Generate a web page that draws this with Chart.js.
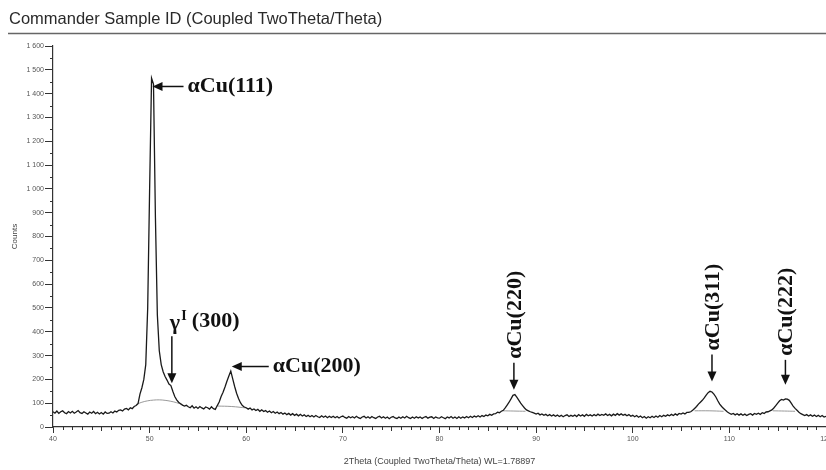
<!DOCTYPE html>
<html>
<head>
  <title>Commander Sample ID</title>
  <script src="https://cdn.jsdelivr.net/npm/chart.js"></script>
  <style>
    body { margin: 0; background: #fff; }
  </style>
</head>
<body>
  <canvas id="chart" width="826" height="470"></canvas>
  <script>
    const chartTitle = "Commander Sample ID (Coupled TwoTheta/Theta)";
    const xTitle = "2Theta (Coupled TwoTheta/Theta) WL=1.78897";
    const yTitle = "Counts";

    // scan 40..120 deg 2theta, step 0.2
    const scanStart = 40;
    const scanStep = 0.2;
    const counts = [
      64, 58, 67, 57, 64,   68, 60, 56, 65, 59,
      66, 58, 63, 69, 60,   57, 64, 59, 54, 63,
      58, 65, 56, 62, 55,   61, 54, 63, 57, 58,
      64, 59, 67, 63, 70,   72, 67, 75, 78, 72,
      81, 77, 86, 90, 98,   138, 165, 200, 262, 500,
      1000, 1465, 1440, 880, 470,   320, 262, 232, 212, 197,
      180, 174, 150, 128, 114,   104, 98, 92, 88, 91,
      85, 81, 89, 79, 85,   78, 86, 80, 76, 84,
      81, 75, 85, 77, 74,   90, 105, 128, 146, 168,
      192, 214, 235, 202, 170,   142, 120, 102, 90, 84,
      81, 75, 80, 72, 76,   69, 74, 66, 72, 65,
      69, 62, 67, 60, 65,   58, 63, 56, 61, 54,
      59, 52, 57, 50, 56,   49, 54, 47, 53, 46,
      51, 44, 49, 43, 48,   42, 48, 43, 40, 47,
      41, 46, 39, 45, 40,   45, 39, 44, 38, 43,
      46, 40, 37, 44, 39,   43, 38, 45, 39, 36,
      42, 45, 38, 43, 37,   44, 39, 36, 42, 45,
      38, 43, 37, 42, 35,   41, 44, 38, 36, 42,
      37, 43, 38, 45, 39,   36, 42, 37, 43, 38,
      42, 36, 41, 44, 37,   41, 43, 36, 42, 38,
      37, 43, 39, 35, 42,   38, 44, 37, 42, 36,
      43, 37, 42, 38, 44,   39, 45, 40, 46, 42,
      47, 42, 48, 44, 50,   47, 53, 49, 55, 56,
      62, 60, 66, 70, 80,   92, 104, 118, 133, 136,
      125, 113, 100, 90, 80,   72, 68, 64, 61, 58,
      54, 58, 51, 55, 49,   53, 47, 52, 46, 51,
      45, 50, 44, 49, 43,   48, 51, 44, 49, 45,
      50, 44, 52, 46, 51,   45, 53, 47, 51, 46,
      52, 47, 54, 48, 53,   49, 55, 48, 53, 47,
      54, 49, 56, 50, 55,   49, 53, 47, 52, 45,
      49, 43, 48, 41, 46,   39, 44, 37, 43, 39,
      45, 40, 46, 41, 48,   43, 49, 45, 51, 47,
      53, 48, 55, 50, 57,   54, 59, 55, 61, 62,
      64, 70, 78, 86, 96,   104, 112, 122, 134, 144,
      150, 147, 138, 126, 110,   96, 86, 78, 70, 63,
      58, 53, 57, 51, 56,   50, 55, 49, 54, 48,
      53, 56, 50, 57, 53,   58, 53, 60, 57, 63,
      64, 68, 72, 80, 90,   100, 110, 116, 113, 118,
      117, 112, 100, 88, 78,   70, 62, 56, 52, 48,
      52, 46, 51, 45, 50,   44, 49, 43, 48, 42,
      45
    ];

    // fitted background under the peaks (grey line), null breaks the line
    const bgTheta  = [48.6, 49.2, 49.8, 50.4, 51.0, 51.6, 52.2, 52.8, 53.4, 53.4, 57.0, 58.5, 60.0, 60.0, 86.5, 87.7, 88.9, 88.9, 106.4, 107.9, 109.4, 109.4, 114.5, 115.7, 116.8];
    const bgCounts = [95, 104, 110, 113, 114, 112, 108, 102, 94, null, 88, 86, 80, null, 68, 67, 66, null, 68, 68, 66, null, 68, 67, 66];

    // peak labels: text, 2theta and counts where the arrow points
    const peakLabels = ["αCu(111)", "γ", "αCu(200)", "αCu(220)", "αCu(311)", "αCu(222)"];
    const peakTheta  = [50.3, 52.3, 58.5, 87.7, 108.2, 115.8];
    const peakTip    = [1430, 184, 254, 156, 191, 177];
    const arrowDir   = ["left", "down", "left", "down", "down", "down"];
    const arrowLen   = [31, 47, 37, 27, 27, 25];

    const yTicks = [];
    for (let v = 0; v <= 1600; v += 100) yTicks.push(v);

    const scan = counts.map((c, i) => ({ x: scanStart + i * scanStep, y: c }));
    const background = bgTheta.map((t, i) => ({ x: t, y: bgCounts[i] }));

    const labelFont = 'bold 22px "Liberation Serif", "Times New Roman", serif';

    function drawArrowHead(ctx, x, y, dir) {
      ctx.beginPath();
      ctx.moveTo(x, y);
      if (dir === "left") {
        ctx.lineTo(x + 10, y - 4.5);
        ctx.lineTo(x + 10, y + 4.5);
      } else {
        ctx.lineTo(x - 4.5, y - 10);
        ctx.lineTo(x + 4.5, y - 10);
      }
      ctx.closePath();
      ctx.fill();
    }

    const decor = {
      id: "decor",
      beforeDraw(chart) {
        const ctx = chart.ctx;
        ctx.save();
        ctx.fillStyle = "#fff";
        ctx.fillRect(0, 0, chart.width, chart.height);
        ctx.fillStyle = "#2a2a2a";
        ctx.font = '16.5px "Liberation Sans", Arial, sans-serif';
        ctx.textBaseline = "middle";
        ctx.fillText(chartTitle, 9, 19);
        ctx.strokeStyle = "#666";
        ctx.lineWidth = 1.5;
        ctx.beginPath();
        ctx.moveTo(8, 33.5);
        ctx.lineTo(chart.width, 33.5);
        ctx.stroke();
        ctx.restore();
      },
      afterDraw(chart) {
        const ctx = chart.ctx;
        const xs = chart.scales.x, ys = chart.scales.y;
        const area = chart.chartArea;
        ctx.save();
        // minor ticks
        ctx.strokeStyle = "#333";
        ctx.lineWidth = 1;
        ctx.beginPath();
        for (let v = 50; v < 1600; v += 100) {
          const py = Math.round(ys.getPixelForValue(v)) + 0.5;
          ctx.moveTo(area.left - 3, py);
          ctx.lineTo(area.left, py);
        }
        for (let v = 41; v < 120; v++) {
          if (v % 10 === 0) continue;
          const px = Math.round(xs.getPixelForValue(v)) + 0.5;
          ctx.moveTo(px, area.bottom);
          ctx.lineTo(px, area.bottom + (v % 5 === 0 ? 4 : 3));
        }
        ctx.stroke();

        // peak annotations
        ctx.fillStyle = "#111";
        ctx.strokeStyle = "#111";
        ctx.lineWidth = 1.5;
        ctx.font = labelFont;
        ctx.textBaseline = "middle";
        peakLabels.forEach((txt, i) => {
          const tx = xs.getPixelForValue(peakTheta[i]);
          const ty = ys.getPixelForValue(peakTip[i]);
          const len = arrowLen[i];
          ctx.beginPath();
          if (arrowDir[i] === "left") {
            ctx.moveTo(tx + 8, ty);
            ctx.lineTo(tx + len, ty);
            ctx.stroke();
            drawArrowHead(ctx, tx, ty, "left");
            ctx.textAlign = "left";
            ctx.fillText(txt, tx + len + 4, ty);
          } else {
            ctx.moveTo(tx, ty - len);
            ctx.lineTo(tx, ty - 8);
            ctx.stroke();
            drawArrowHead(ctx, tx, ty, "down");
            if (txt === "γ") {
              const y0 = ty - len - 15;
              ctx.textAlign = "left";
              ctx.fillText("γ", tx - 2, y0 + 2);
              const gw = ctx.measureText("γ").width;
              ctx.font = 'bold 14px "Liberation Serif", "Times New Roman", serif';
              ctx.fillText("I", tx - 2 + gw + 1, y0 - 5);
              ctx.font = labelFont;
              ctx.fillText("(300)", tx + 20, y0);
            } else {
              ctx.save();
              ctx.translate(tx, ty - len - 4);
              ctx.rotate(-Math.PI / 2);
              ctx.textAlign = "left";
              ctx.fillText(txt, 0, 1);
              ctx.restore();
            }
          }
        });
        ctx.restore();
      }
    };

    Chart.defaults.font.family = '"Liberation Sans", Arial, sans-serif';

    new Chart(document.getElementById("chart"), {
      type: "line",
      data: {
        datasets: [
          {
            label: "Scan",
            data: scan,
            borderColor: "#1a1a1a",
            borderWidth: 1.3,
            pointRadius: 0,
            tension: 0,
            fill: false
          },
          {
            label: "Background",
            data: background,
            borderColor: "#9a9a9a",
            borderWidth: 1,
            pointRadius: 0,
            tension: 0.4,
            spanGaps: false,
            fill: false
          }
        ]
      },
      options: {
        responsive: false,
        animation: false,
        layout: { padding: { top: 46, left: 0, right: 0, bottom: 0 } },
        plugins: {
          legend: { display: false },
          title: { display: false },
          tooltip: { enabled: false }
        },
        scales: {
          x: {
            type: "linear",
            min: 40,
            max: 120,
            border: { color: "#333", width: 1.2 },
            grid: { drawOnChartArea: false, tickLength: 6, color: "#333" },
            ticks: { stepSize: 10, padding: 2, color: "#555", font: { size: 7 } },
            title: { display: true, text: xTitle, color: "#444", font: { size: 9 }, padding: { top: 0, bottom: 3 } },
            afterFit(scale) {
              scale.height = 43;
              scale.paddingLeft = 0;
              scale.paddingRight = 0;
            }
          },
          y: {
            type: "linear",
            min: 0,
            max: 1600,
            border: { color: "#333", width: 1.2 },
            grid: { drawOnChartArea: false, tickLength: 8, color: "#333" },
            afterBuildTicks(scale) {
              scale.ticks = yTicks.map(v => ({ value: v }));
            },
            ticks: {
              padding: 1,
              color: "#555",
              font: { size: 7 },
              callback: v => String(v).replace(/\B(?=(\d{3})+(?!\d))/g, " ")
            },
            title: { display: true, text: yTitle, color: "#444", font: { size: 8 }, padding: { top: 10, bottom: 0 } },
            afterFit(scale) {
              scale.width = 53;
              scale.paddingTop = 0;
              scale.paddingBottom = 0;
            }
          }
        }
      },
      plugins: [decor]
    });
  </script>
</body>
</html>
